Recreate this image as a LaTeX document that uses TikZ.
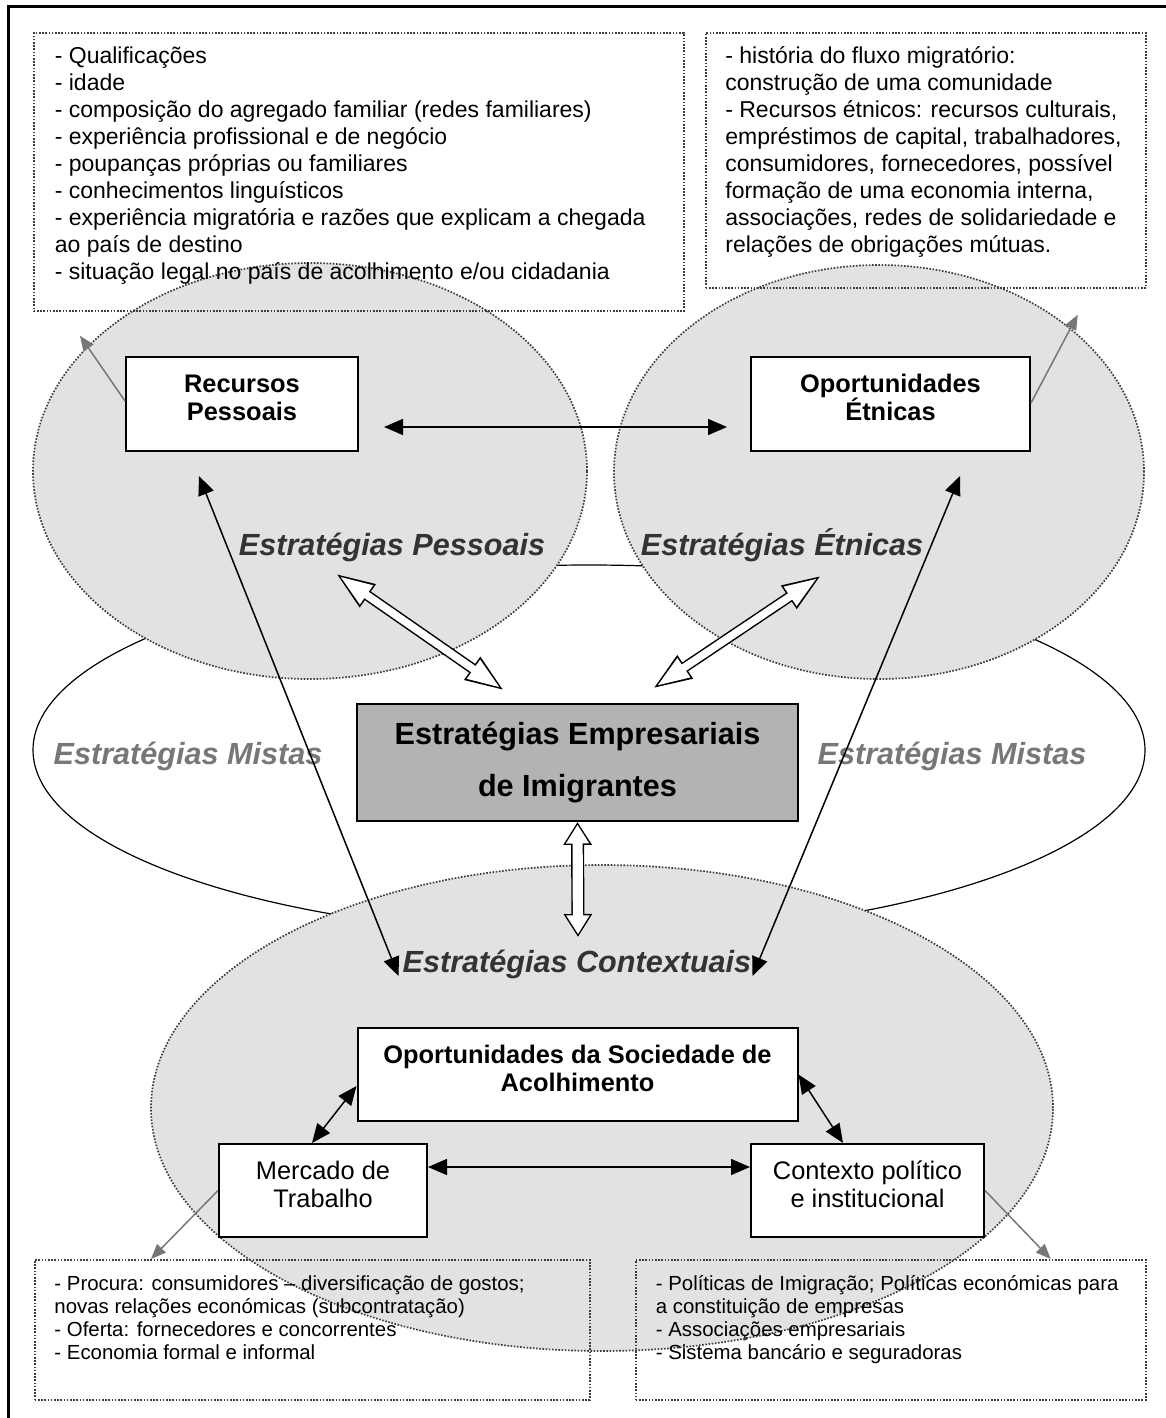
\documentclass[tikz,border=0pt]{standalone}
\usepackage{fontspec}
\setmainfont{Liberation Sans}
\usetikzlibrary{
	arrows.meta,
	positioning,
	calc
}
\definecolor{ellgray}{HTML}{E2E2E2}
\definecolor{boxgray}{HTML}{B3B3B3}
\definecolor{mixgray}{HTML}{777777}
\definecolor{darktxt}{HTML}{333333}
\definecolor{dotgray}{HTML}{3C3C3C}
\definecolor{arrgray}{HTML}{777777}

\begin{document}
\begin{tikzpicture}[x=0.5pt, y=-0.5pt,
				ellzone/.style={
					fill=ellgray, draw=dotgray, line width=0.85pt,
					dash pattern=on 0.8pt off 0.8pt
				},
				notebox/.style={
					rectangle, draw=dotgray, line width=0.85pt,
					dash pattern=on 0.8pt off 0.8pt,
					anchor=north west, inner ysep=6pt
				},
				namebox/.style={
					rectangle, draw, line width=1pt, fill=white,
					align=center, text depth=6.5pt,
					font=\fontsize{12.7}{14.2}\selectfont\bfseries
				},
				plainbox/.style={
					namebox, font=\fontsize{12.7}{14.2}\selectfont
				},
				mainbox/.style={
					rectangle, draw, line width=0.9pt, fill=boxgray,
					align=center,
					font=\fontsize{15.3}{26}\selectfont\bfseries
				},
				strat/.style={
					anchor=base, inner sep=0pt, text=darktxt,
					font=\fontsize{15.3}{18}\selectfont\bfseries\itshape
				},
				arrow/.style={line width=0.75pt,
					{Triangle[length=9.5pt,width=8pt]}-{Triangle[length=9.5pt,width=8pt]}},
				grayarrow/.style={draw=arrgray, line width=0.75pt,
					-{Triangle[length=7.5pt,width=6pt]}},
				diagout/.style={line width=5.3pt,
					{Triangle[length=20pt,width=12.5pt]}-{Triangle[length=20pt,width=12.5pt]}},
				diagin/.style={white, line width=3.8pt,
					{Triangle[length=16.6pt,width=10.4pt]}-{Triangle[length=16.6pt,width=10.4pt]},
					shorten <=2.6pt, shorten >=2.6pt},
				vertout/.style={line width=6.5pt,
					{Triangle[length=11.5pt,width=13.5pt]}-{Triangle[length=11.5pt,width=13.5pt]}},
				vertin/.style={white, line width=5.1pt,
					{Triangle[length=9.4pt,width=11pt]}-{Triangle[length=9.4pt,width=11pt]},
					shorten <=1.4pt, shorten >=1.4pt},
				]
				\useasboundingbox (0,0) rectangle (1166,1418);
				
				%frame
				\draw[line width=1.5pt] (8,1460) |- (1200,7);
				
				%zones
				\draw[fill=white, line width=0.6pt] (589,750) ellipse [x radius=278pt, y radius=92.5pt];
				\path[ellzone] (310,471) ellipse [x radius=138.5pt, y radius=104pt];
				\path[ellzone] (879,472) ellipse [x radius=132.5pt, y radius=103.5pt];
				\path[ellzone] (602,1108) ellipse [x radius=225.5pt, y radius=121.5pt];
				
				%notes
				\node[notebox, inner xsep=10.5pt, font=\fontsize{11.5}{13.5}\selectfont] (tbpes) at (33,32)
				{\parbox[c][127pt][t]{304pt}{\strut - Qualificações\\
						- idade\\
						- composição do agregado familiar (redes familiares)\\
						- experiência profissional e de negócio\\
						- poupanças próprias ou familiares\\
						- conhecimentos linguísticos\\
						- experiência migratória e razões que explicam a chegada\\
						ao país de destino\\
						- situação legal no país de acolhimento e/ou cidadania}};
				
				\node[notebox, inner xsep=9.75pt, font=\fontsize{11.5}{13.5}\selectfont] (tbet) at (705,32)
				{\parbox[c][115.5pt][t]{200.5pt}{\strut - história do fluxo migratório:\\
						construção de uma comunidade\\
						- Recursos étnicos: recursos culturais,\\
						empréstimos de capital, trabalhadores,\\
						consumidores, fornecedores, possível\\
						formação de uma economia interna,\\
						associações, redes de solidariedade e\\
						relações de obrigações mútuas.}};
				
				\node[notebox, inner xsep=9.8pt, inner ysep=7.5pt, font=\fontsize{10.2}{11.5}\selectfont] (tbmerc) at (34,1259)
				{\parbox[c][55pt][t]{257.9pt}{\strut - Procura: consumidores – diversificação de gostos;\\
						novas relações económicas (subcontratação)\\
						- Oferta: fornecedores e concorrentes\\
						- Economia formal e informal}};
				
				\node[notebox, inner xsep=10pt, inner ysep=7.5pt, font=\fontsize{10.2}{11.5}\selectfont] (tbcont) at (635,1259)
				{\parbox[c][55pt][t]{235pt}{\strut - Políticas de Imigração; Políticas económicas para\\
						a constituição de empresas\\
						- Associações empresariais\\
						- Sistema bancário e seguradoras}};
				
				%strategy labels
				\node[strat] (lpes) at (392,555) {Estratégias Pessoais};
				\node[strat] (let) at (782,555) {Estratégias Étnicas};
				\node[strat, text=mixgray] (lmixl) at (188,764) {Estratégias Mistas};
				\node[strat, text=mixgray] (lmixr) at (952,764) {Estratégias Mistas};
				\node[strat] (lctx) at (577,972) {Estratégias Contextuais};
				
				%boxes
				\node[namebox, minimum width=116pt, minimum height=47pt] (recp) at (242,404) {Recursos\\Pessoais};
				\node (opet) at (recp) [namebox, minimum width=139.5pt, minimum height=47pt, xshift=324.25pt] {Oportunidades\\Étnicas};
				\node[mainbox, minimum width=220.5pt, minimum height=58.5pt] (emp) at (577.5,762.5) {Estratégias Empresariais\\de Imigrantes};
				\node (opsoc) at (emp) [namebox, minimum width=220pt, minimum height=46.5pt, yshift=-156pt] {Oportunidades da Sociedade de\\Acolhimento};
				\node[plainbox, minimum width=104pt, minimum height=46.5pt] (merc) at (323,1190.5) {Mercado de\\Trabalho};
				\node (cont) at (merc) [plainbox, minimum width=116.5pt, minimum height=46.5pt, xshift=272.25pt] {Contexto político\\e institucional};
				
				%black links
				\draw[arrow, shorten <=12.5pt, shorten >=11.5pt] ([yshift=-11.5pt]recp.east) -- ([yshift=-11.5pt]opet.west);
				\draw[arrow] ([xshift=-21.5pt, yshift=-12pt]recp.south) -- ([xshift=21pt, yshift=25.5pt]opsoc.north west);
				\draw[arrow] ([xshift=34.75pt, yshift=-12pt]opet.south) -- ([xshift=-23pt, yshift=25.5pt]opsoc.north east);
				\draw[arrow] ([yshift=-5.75pt]opsoc.west) -- ([xshift=-5.5pt]merc.north);
				\draw[arrow] (opsoc.east) -- ([xshift=-12.25pt]cont.north);
				\draw[arrow] ([yshift=11.75pt]merc.east) -- ([yshift=11.75pt]cont.west);
				
				%gray links to the notes
				\draw[grayarrow] ([yshift=1.5pt]recp.west) -- ([xshift=23.5pt, yshift=-12pt]tbpes.south west);
				\draw[grayarrow] ([yshift=0.5pt]opet.east) -- ([xshift=-34.5pt, yshift=-13pt]tbet.south east);
				\draw[grayarrow] (merc.west) -- ([xshift=58.5pt]tbmerc.north west);
				\draw[grayarrow] (cont.east) -- ([xshift=-48pt]tbcont.north east);
				
				%hollow arrows
				\draw[diagout] ([xshift=-28.5pt, yshift=-9pt]lpes.base) -- ([xshift=-36.25pt, yshift=6pt]emp.north);
				\draw[diagin] ([xshift=-28.5pt, yshift=-9pt]lpes.base) -- ([xshift=-36.25pt, yshift=6pt]emp.north);
				\draw[diagout] ([xshift=20pt, yshift=-10pt]let.base) -- ([xshift=37.25pt, yshift=7pt]emp.north);
				\draw[diagin] ([xshift=20pt, yshift=-10pt]let.base) -- ([xshift=37.25pt, yshift=7pt]emp.north);
				\draw[vertout] (emp.south) -- ([xshift=0.5pt, yshift=17.5pt]lctx.base);
				\draw[vertin] (emp.south) -- ([xshift=0.5pt, yshift=17.5pt]lctx.base);
			\end{tikzpicture}
\end{document}
